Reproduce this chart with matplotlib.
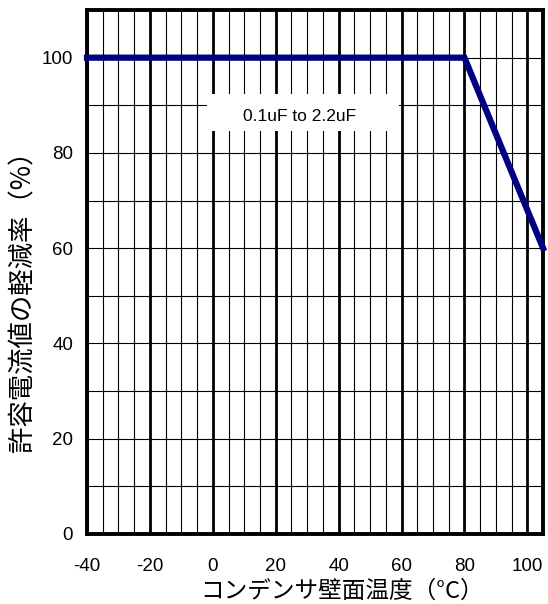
import numpy as np
import matplotlib.pyplot as plt
from matplotlib.patches import Rectangle
from matplotlib.ticker import MultipleLocator

plt.rcParams['font.family'] = ['Liberation Sans', 'Noto Sans CJK JP', 'DejaVu Sans']
plt.rcParams['axes.unicode_minus'] = False

# derating curve
temp = [-40, 80, 105]
derating = [100, 100, 60]

x_ticks = [-40, -20, 0, 20, 40, 60, 80, 100]
y_ticks = [0, 20, 40, 60, 80, 100]
note = '0.1uF to 2.2uF'

fig = plt.figure(figsize=(5.48, 6.04), dpi=100)
ax = fig.add_axes([0.1588, 0.1159, 0.8322, 0.8675])

ax.set_xlim(-40, 105)
ax.set_ylim(0, 110)
ax.set_xticks(x_ticks)
ax.set_yticks(y_ticks)
ax.xaxis.set_minor_locator(MultipleLocator(5))
ax.yaxis.set_minor_locator(MultipleLocator(10))

ax.grid(which='major', axis='x', color='black', linewidth=2.0)
ax.grid(which='minor', axis='x', color='black', linewidth=0.8)
ax.grid(which='both', axis='y', color='black', linewidth=0.8)
ax.set_axisbelow(True)

ax.tick_params(which='both', length=0, labelsize=13.5)
ax.tick_params(axis='x', pad=17)
ax.tick_params(axis='y', pad=10)

for s in ax.spines.values():
    s.set_linewidth(2.8)
    s.set_color('black')

# white box behind the note
ax.add_patch(Rectangle((-1.9, 84.6), 61.2, 7.8, facecolor='white',
                       edgecolor='none', zorder=2))
ax.text(27.6, 87.7, note, ha='center', va='center', fontsize=12.5, zorder=3)

ax.plot(temp, derating, '-', color='#000080', linewidth=4.5, zorder=4,
        solid_joinstyle='miter', clip_on=False)

cjk = ['Noto Sans CJK JP', 'DejaVu Sans']
ax.set_xlabel('コンデンサ壁面温度（°C）', fontsize=17, family=cjk,
              va='center', ha='center')
ax.set_ylabel('許容電流値の軽減率（%）', fontsize=19, family=cjk,
              va='center', ha='center')
ax.xaxis.set_label_coords(0.56, -0.109)
ax.yaxis.set_label_coords(-0.14, 0.456)

fig.savefig('out.png', dpi=100)
